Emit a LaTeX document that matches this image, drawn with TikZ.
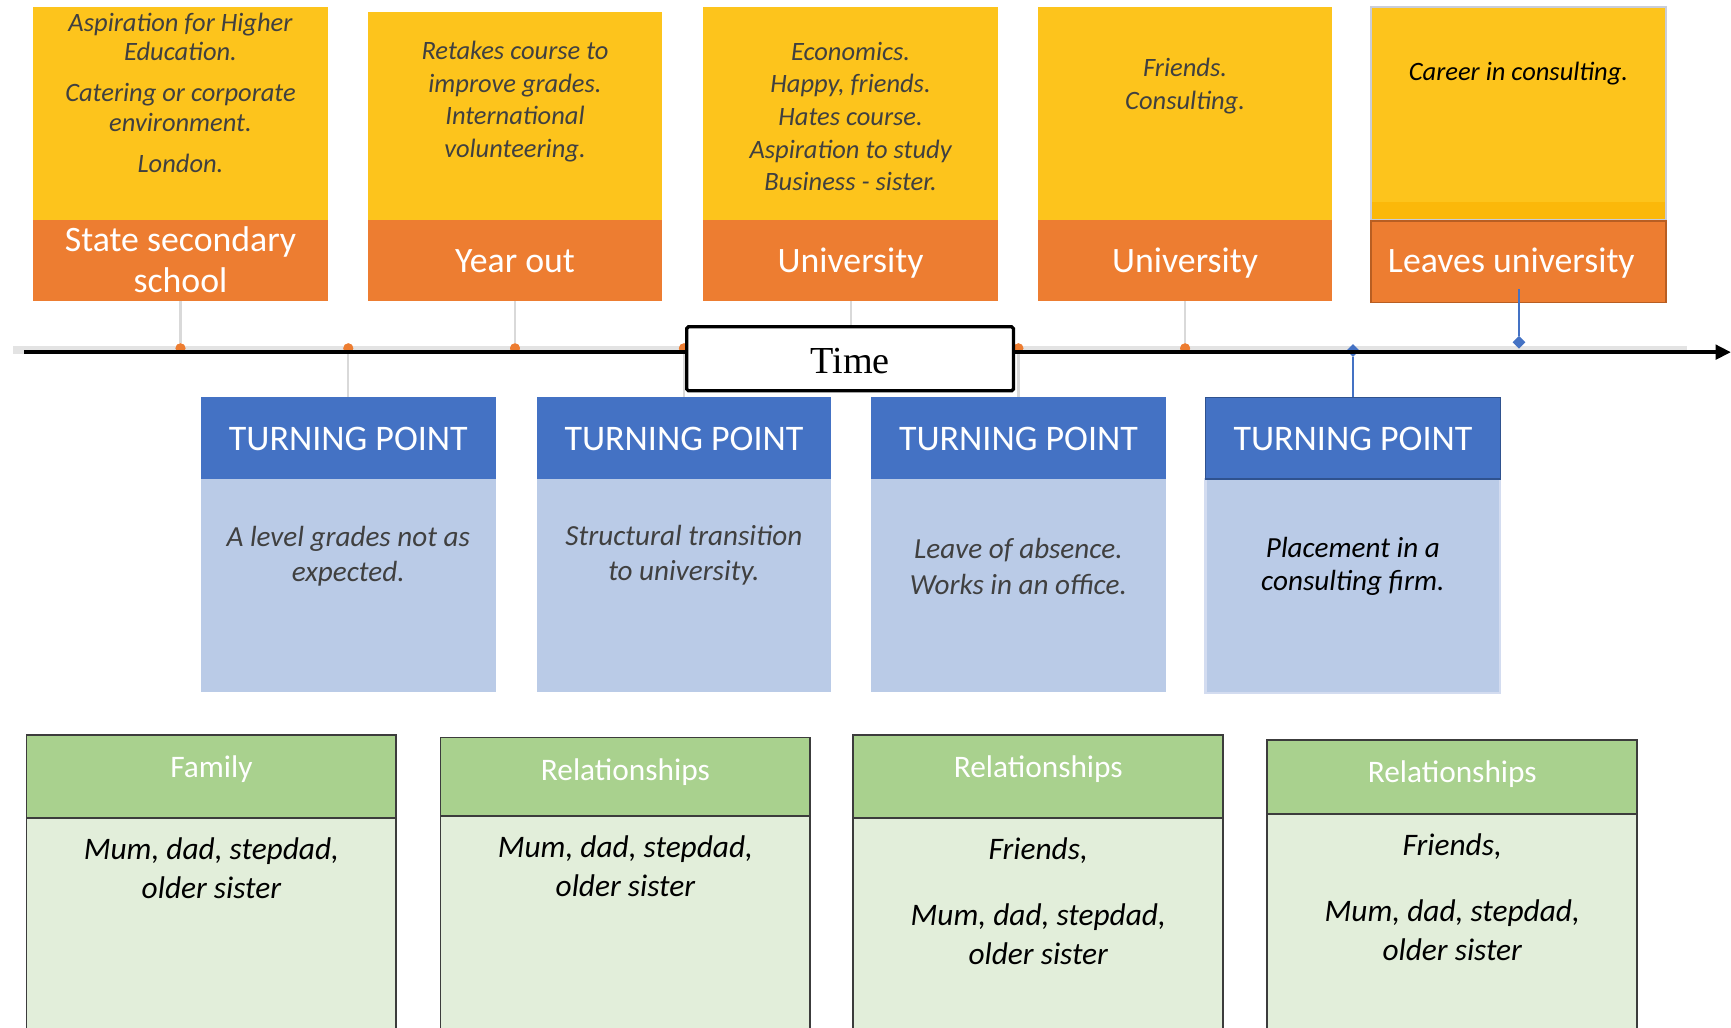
\documentclass[tikz,border=0pt]{standalone}
\usepackage{fontspec}
\setmainfont{Carlito}
\newfontfamily\timefont{Liberation Serif}
\usetikzlibrary{arrows.meta,shapes.geometric}

\definecolor{ygold}{HTML}{FDC41C}
\definecolor{yband}{HTML}{FBB80A}
\definecolor{ygrayedge}{HTML}{C9CDD9}
\definecolor{orng}{HTML}{ED7D31}
\definecolor{orngedge}{HTML}{B85E22}
\definecolor{tpblue}{HTML}{4472C4}
\definecolor{tpblueedge}{HTML}{2F528F}
\definecolor{tplight}{HTML}{BACBE7}
\definecolor{tplightedge}{HTML}{D3DCF0}
\definecolor{grhead}{HTML}{A9D18E}
\definecolor{grbody}{HTML}{E2EEDA}
\definecolor{gredge}{HTML}{3C3C3C}
\definecolor{txtgray}{HTML}{404040}
\definecolor{stemgray}{HTML}{D9D9D9}
\definecolor{bandgray}{HTML}{E3E3E3}

% rectangle node from its top-left and bottom-right corners (y grows downwards)
\newcommand\mkpanel[6]{%
  \node[#1, anchor=north west, minimum width={(#5-#3)*0.5pt},
        minimum height={(#6-#4)*0.5pt}] (#2) at (#3,#4) {};}

\begin{document}
\begin{tikzpicture}[x=0.5pt,y=-0.5pt,
  every node/.style={inner sep=0pt, outer sep=0pt},
  yellowbox/.style={rectangle, fill=ygold},
  orangebox/.style={rectangle, fill=orng},
  tphead/.style={rectangle, fill=tpblue},
  tpbody/.style={rectangle, fill=tplight},
  famhead/.style={rectangle, fill=grhead, draw=gredge, line width=0.8pt},
  fambody/.style={rectangle, fill=grbody, draw=gredge, line width=0.8pt},
  notes/.style={align=center, text=txtgray, font=\fontsize{12}{14.75}\selectfont\itshape},
  stagelabel/.style={align=center, text=white, font=\fontsize{16.2}{18.5}\selectfont},
  tplabel/.style={text=white, font=\fontsize{16.3}{18}\selectfont},
  tptext/.style={align=center, text=txtgray, font=\fontsize{13.2}{16}\selectfont\itshape},
  famlabel/.style={text=white, font=\fontsize{14.2}{17}\selectfont},
  famtext/.style={align=center, text=black, font=\fontsize{14.2}{17.5}\selectfont\itshape},
  stem/.style={draw=stemgray, line width=1pt},
  bluestem/.style={draw=tpblue, line width=0.6pt},
  dot/.style={circle, fill=orng, minimum size=4.5pt},
  marker/.style={diamond, fill=tpblue, minimum width=5.8pt, minimum height=5.8pt},
  timebox/.style={rectangle, draw=black, fill=white, line width=1.5pt,
                  rounded corners=0.8pt, minimum width=148pt, minimum height=29pt,
                  text height=13.4pt, text depth=0pt}
]
\clip (0,0) rectangle (1568,931);

% ---------- life stages (top) ----------
\mkpanel{yellowbox}{y1}{30}{6}{297}{199}
\mkpanel{orangebox}{o1}{30}{199}{297}{273}
\mkpanel{yellowbox}{y2}{333}{11}{600}{199}
\mkpanel{orangebox}{o2}{333}{199}{600}{273}
\mkpanel{yellowbox}{y3}{637}{6}{904}{199}
\mkpanel{orangebox}{o3}{637}{199}{904}{273}
\mkpanel{yellowbox}{y4}{940}{6}{1207}{199}
\mkpanel{orangebox}{o4}{940}{199}{1207}{273}
\mkpanel{yellowbox, draw=ygrayedge, line width=1pt}{y5}{1242}{6}{1509}{199}
\mkpanel{rectangle, fill=yband}{y5band}{1243}{183}{1508}{198}
\mkpanel{orangebox, draw=orngedge, line width=0.8pt}{o5}{1242}{200}{1509}{274}

\node[notes, font=\fontsize{12}{13.25}\selectfont\itshape] (n1) at (163.5,84)
  {Aspiration for Higher\\Education.\\[5.5pt]Catering or corporate\\environment.\\[5.5pt]London.};
\node[notes, font=\fontsize{12}{14.9}\selectfont\itshape] (n2) at (466.5,92)
  {Retakes course to\\improve grades.\\International\\volunteering.};
\node[notes] (n3) at (770.5,105.5)
  {Economics.\\Happy, friends.\\Hates course.\\Aspiration to study\\Business - sister.};
\node[notes] (n4) at (1073.5,78) {Friends.\\Consulting.};
\node[notes, text=black] (n5) at (1375.5,67) {Career in consulting.};

\node[stagelabel] (s1) at (163.5,235) {State secondary\\school};
\node[stagelabel] (s2) at (466.5,236.5) {Year out};
\node[stagelabel] (s3) at (770.5,238) {University};
\node[stagelabel] (s4) at (1073.5,238) {University};
\node[stagelabel] (s5) at (1369,238) {Leaves university};

% ---------- turning points ----------
\mkpanel{tphead}{t1}{182}{360}{449}{434}
\mkpanel{tpbody}{b1}{182}{434}{449}{627}
\mkpanel{tphead}{t2}{486}{360}{753}{434}
\mkpanel{tpbody}{b2}{486}{434}{753}{627}
\mkpanel{tphead}{t3}{789}{360}{1056}{434}
\mkpanel{tpbody}{b3}{789}{434}{1056}{627}
\mkpanel{tpbody, draw=tplightedge, line width=1pt}{b4}{1092}{434}{1359}{628}
\mkpanel{tphead, draw=tpblueedge, line width=0.6pt}{t4}{1092}{360}{1359}{434}

\node[tplabel] (tl1) at (315.5,398) {TURNING POINT};
\node[tplabel] (tl2) at (619.5,398) {TURNING POINT};
\node[tplabel] (tl3) at (922.5,398) {TURNING POINT};
\node[tplabel] (tl4) at (1225.5,398) {TURNING POINT};

\node[tptext] (tx1) at (315.5,504) {A level grades not as\\expected.};
\node[tptext] (tx2) at (619.5,503) {Structural transition\\to university.};
\node[tptext] (tx3) at (922.5,513) {Leave of absence.\\Works in an office.};
\node[tptext, text=black, font=\fontsize{13.2}{15}\selectfont\itshape] (tx4) at (1225.5,513)
  {Placement in a\\consulting firm.};

% ---------- time axis with stems and markers ----------
\coordinate (band0) at (12,317);
\coordinate (band1) at (1528,317);
\coordinate (axis0) at (22,319);
\coordinate (axis1) at (1568,319);
\draw[bandgray, line width=4pt] (band0) -- (band1);

\node[dot] (d1) at (163.5,315.5) {};
\node[dot] (d2) at (315.5,315.5) {};
\node[dot] (d3) at (466.5,315.5) {};
\node[dot] (d4) at (619.5,315.5) {};
\node[dot] (d5) at (770.5,315.5) {};
\node[dot] (d6) at (922.5,315.5) {};
\node[dot] (d7) at (1073.5,315.5) {};

\draw[stem] (o1.south) -- (d1);
\draw[stem] (d2) -- (t1.north);
\draw[stem] (o2.south) -- (d3);
\draw[stem] (d4) -- (t2.north);
\draw[stem] (o3.south) -- (d5);
\draw[stem] (d6) -- (t3.north);
\draw[stem] (o4.south) -- (d7);
\foreach \d in {d1,d2,d3,d4,d5,d6,d7} \node[dot] at (\d) {};

\node[marker] (m1) at (1225.5,317.5) {};
\draw[bluestem] (m1) -- (t4.north);

\draw[black, line width=1.75pt, -{Triangle[length=7pt,width=6.5pt]}] (axis0) -- (axis1);

\coordinate (m2top) at (1376,262);
\node[marker] (m2) at (1376,310) {};
\draw[bluestem] (m2top) -- (m2);

\node[timebox] (time) at (770,325) {\timefont\fontsize{17.3}{20}\selectfont Time};

% ---------- relationships (bottom) ----------
\mkpanel{fambody}{fb1}{24}{741}{359}{940}
\mkpanel{famhead}{fh1}{24}{666}{359}{741}
\mkpanel{fambody}{fb2}{399}{739}{734}{940}
\mkpanel{famhead}{fh2}{399}{668}{734}{739}
\mkpanel{fambody}{fb3}{773}{741}{1108}{940}
\mkpanel{famhead}{fh3}{773}{666}{1108}{741}
\mkpanel{fambody}{fb4}{1148}{737}{1483}{940}
\mkpanel{famhead}{fh4}{1148}{670}{1483}{737}

\node[famlabel] (fl1) at (191.5,697) {Family};
\node[famlabel] (fl2) at (566.5,699) {Relationships};
\node[famlabel] (fl3) at (940.5,697) {Relationships};
\node[famlabel] (fl4) at (1315.5,701) {Relationships};

\node[famtext] (ft1) at (191.5,786.5) {Mum, dad, stepdad,\\older sister};
\node[famtext] (ft2) at (566.5,784.5) {Mum, dad, stepdad,\\older sister};
\node[famtext] (ft3) at (940.5,816.5) {Friends,\\[12.5pt]Mum, dad, stepdad,\\older sister};
\node[famtext] (ft4) at (1315.5,812.5) {Friends,\\[12.5pt]Mum, dad, stepdad,\\older sister};
\end{tikzpicture}
\end{document}
